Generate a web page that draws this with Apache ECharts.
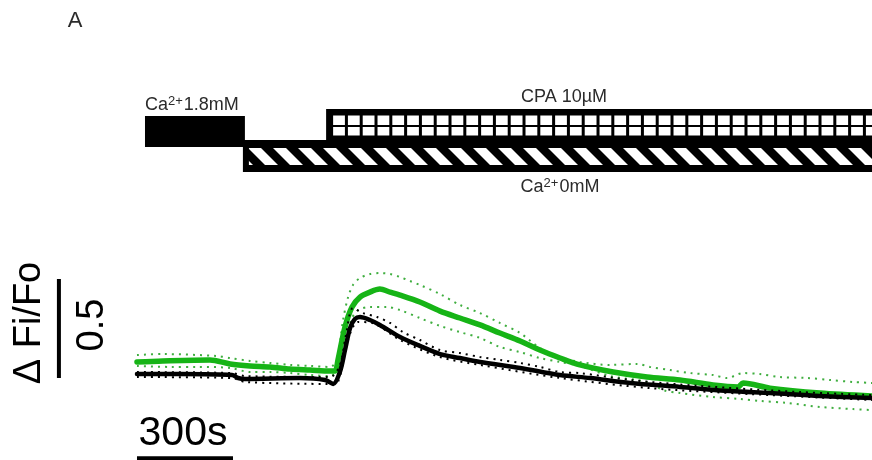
<!DOCTYPE html>
<html>
<head>
<meta charset="utf-8">
<script src="https://cdn.jsdelivr.net/npm/echarts@6/dist/echarts.min.js"></script>
<style>
  html, body { margin: 0; padding: 0; background: #fff; }
  #chart { width: 872px; height: 460px; }
</style>
</head>
<body>
<div id="chart"></div>
<script>
// Time in seconds, ΔFi/Fo as value.
// Perfusion protocol (seconds)
const phaseNames = ['Ca2+1.8mM', 'Ca2+0mM', 'CPA 10µM'];
const phaseStart = [25, 331, 591];
const phaseEnd = [331, 2297, 2297];

// Control (black): mean and SEM bounds, [time, ΔFi/Fo]
const ctrlMean = [
  [0, 0.020], [134, 0.020], [297, 0.015], [316, 0.000], [338, -0.005], [509, 0.000],
  [588, -0.010], [613, -0.030], [634, 0.030], [650, 0.141], [666, 0.253], [681, 0.298],
  [697, 0.308], [728, 0.293], [759, 0.268], [822, 0.207], [884, 0.162], [947, 0.121],
  [1009, 0.101], [1072, 0.081], [1197, 0.051], [1322, 0.015], [1416, 0.000], [1541, -0.025],
  [1697, -0.045], [1853, -0.066], [1978, -0.076], [2134, -0.091], [2297, -0.101]
];
const ctrlUpper = [
  [0, 0.030], [297, 0.025], [338, 0.010], [603, 0.005], [634, 0.066], [653, 0.217],
  [675, 0.354], [706, 0.328], [750, 0.308], [791, 0.278], [831, 0.232], [884, 0.192],
  [947, 0.141], [1009, 0.126], [1072, 0.106], [1134, 0.091], [1197, 0.076], [1259, 0.056],
  [1322, 0.030], [1384, 0.025], [1541, -0.010], [1759, -0.040], [2072, -0.071], [2297, -0.086]
];
const ctrlLower = [
  [0, 0.005], [297, 0.000], [338, -0.020], [603, -0.030], [628, -0.020], [659, 0.192],
  [691, 0.283], [744, 0.273], [822, 0.192], [947, 0.106], [1072, 0.066], [1322, 0.000],
  [1603, -0.051], [1916, -0.081], [2297, -0.111]
];

// Treated (green): mean and SEM bounds
const treatMean = [
  [0, 0.081], [81, 0.086], [228, 0.091], [291, 0.071], [353, 0.061], [416, 0.056],
  [478, 0.045], [541, 0.040], [603, 0.035], [619, 0.035], [628, 0.091], [650, 0.258],
  [672, 0.359], [697, 0.409], [728, 0.434], [759, 0.449], [791, 0.434], [822, 0.419],
  [884, 0.384], [947, 0.338], [1009, 0.303], [1072, 0.268], [1134, 0.227], [1197, 0.187],
  [1259, 0.141], [1322, 0.101], [1384, 0.066], [1488, 0.030], [1594, 0.005], [1697, -0.010],
  [1800, -0.035], [1878, -0.045], [1894, -0.025], [1978, -0.051], [2134, -0.076], [2297, -0.091]
];
const treatUpper = [
  [0, 0.116], [81, 0.121], [250, 0.111], [291, 0.101], [353, 0.086], [416, 0.076],
  [478, 0.066], [541, 0.061], [603, 0.056], [625, 0.091], [644, 0.293], [659, 0.404],
  [675, 0.470], [697, 0.505], [728, 0.525], [759, 0.530], [791, 0.525], [822, 0.510],
  [853, 0.490], [884, 0.470], [947, 0.424], [1009, 0.369], [1072, 0.328], [1134, 0.278],
  [1197, 0.227], [1259, 0.152], [1322, 0.106], [1384, 0.081], [1478, 0.066], [1563, 0.071],
  [1603, 0.056], [1666, 0.040], [1728, 0.025], [1800, 0.015], [1844, 0.000], [1894, 0.025],
  [1947, 0.020], [2009, 0.005], [2094, 0.000], [2166, -0.010], [2238, -0.020], [2297, -0.025]
];
const treatLower = [
  [0, 0.061], [103, 0.056], [188, 0.056], [291, 0.051], [353, 0.030], [416, 0.030],
  [478, 0.025], [541, 0.015], [603, 0.010], [625, 0.040], [650, 0.192], [672, 0.303],
  [691, 0.343], [728, 0.359], [781, 0.359], [822, 0.343], [884, 0.303], [947, 0.263],
  [1009, 0.232], [1072, 0.202], [1134, 0.157], [1197, 0.131], [1259, 0.101], [1322, 0.081],
  [1384, 0.061], [1478, 0.010], [1594, -0.020], [1644, -0.061], [1697, -0.076], [1800, -0.096],
  [1884, -0.106], [1947, -0.116], [2031, -0.126], [2134, -0.146], [2238, -0.157], [2297, -0.162]
];

// Scale bars: 0.5 ΔFi/Fo and 300 s
const scaleBarValue = [0, 0.5];
const scaleBarTime = [0, 300];
const scaleBarLabels = ['0.5', '300s'];

const BLACK = '#000000';
const GREEN = '#16b416';
const GREEN_DOT = '#3fae3f';

// Diagonal-stripe fill for the Ca2+-free period
function makeStripePattern() {
  const c = document.createElement('canvas');
  const p = 25, w = 13;
  c.width = p; c.height = p;
  const g = c.getContext('2d');
  g.fillStyle = '#000';
  g.fillRect(0, 0, p, p);
  g.fillStyle = '#fff';
  for (const o of [-p, 0, p]) {
    g.beginPath();
    g.moveTo(o, 0); g.lineTo(o + w, 0); g.lineTo(o + w + p, p); g.lineTo(o + p, p);
    g.closePath(); g.fill();
  }
  return c;
}
const stripeImage = makeStripePattern();

function renderPhase(params, api) {
  const i = api.value(0);
  const x0 = api.coord([phaseStart[i], 0])[0];
  const x1 = api.coord([phaseEnd[i], 0])[0] + 2;
  if (i === 0) {
    return { type: 'rect', z2: 30, shape: { x: x0, y: 116, width: x1 - x0, height: 31 }, style: { fill: BLACK } };
  }
  if (i === 1) {
    return {
      type: 'group', children: [
        { type: 'rect', z2: 10, shape: { x: x0, y: 140, width: x1 - x0, height: 32 }, style: { fill: BLACK } },
        { type: 'rect', z2: 11, shape: { x: x0 + 6, y: 148, width: x1 - x0 - 6, height: 17 },
          style: { fill: { image: stripeImage, repeat: 'repeat' } } }
      ]
    };
  }
  const children = [
    { type: 'rect', z2: 20, shape: { x: x0, y: 109, width: x1 - x0, height: 32 }, style: { fill: BLACK } }
  ];
  const pitch = 14.8, cw = 11.8, rows = [[115.5, 9.5], [127, 8.5]];
  for (let cx = x0 + 7; cx < x1; cx += pitch) {
    for (const r of rows) {
      children.push({ type: 'rect', z2: 21, shape: { x: cx, y: r[0], width: cw, height: r[1] }, style: { fill: '#fff' } });
    }
  }
  return { type: 'group', children };
}

function traceSeries(data, color, width, dotted, z) {
  return {
    type: 'line', data, showSymbol: false, symbol: 'none', smooth: 0.3, z,
    silent: true, animation: false, clip: false,
    lineStyle: dotted
      ? { color, width: 2, type: [2, 5], cap: 'butt' }
      : { color, width, cap: 'round', join: 'round' }
  };
}

const chart = echarts.init(document.getElementById('chart'), null, { renderer: 'canvas' });

const TEXT = '#2b2b2b';
const FONT = '"Liberation Sans", Arial, sans-serif';
const supRich = {
  b: { fontSize: 18, fontFamily: FONT, fill: TEXT, lineHeight: 20 },
  s: { fontSize: 13, fontFamily: FONT, fill: TEXT, verticalAlign: 'top', lineHeight: 20, padding: [0, 1, 8, 0] }
};

chart.setOption({
  backgroundColor: '#ffffff',
  animation: false,
  grid: { left: 0, right: 0, top: 0, bottom: 0 },
  xAxis: { type: 'value', min: -428.1, max: 2296.9, show: false },
  yAxis: { type: 'value', min: -0.4141, max: 1.9091, show: false },
  series: [
    {
      type: 'custom', renderItem: renderPhase, silent: true, animation: false,
      data: phaseNames.map((n, i) => [i]), z: 1
    },
    traceSeries(treatUpper, GREEN_DOT, 2, true, 2),
    traceSeries(treatLower, GREEN_DOT, 2, true, 2),
    traceSeries(treatMean, GREEN, 5.5, false, 3),
    traceSeries(ctrlLower, BLACK, 2, true, 4),
    traceSeries(ctrlUpper, BLACK, 2, true, 4),
    traceSeries(ctrlMean, BLACK, 4.5, false, 5),
    {
      type: 'line', silent: true, animation: false, symbol: 'none', z: 6, clip: false,
      data: scaleBarValue.map(v => [-244, v]),
      lineStyle: { color: BLACK, width: 4, cap: 'butt' }
    },
    {
      type: 'line', silent: true, animation: false, symbol: 'none', z: 6, clip: false,
      data: scaleBarTime.map(t => [t, -0.405]),
      lineStyle: { color: BLACK, width: 4, cap: 'butt' }
    }
  ],
  graphic: [
    { type: 'text', x: 75, y: 21, style: { text: 'A', fontSize: 22, fontFamily: FONT, fill: TEXT, align: 'center', verticalAlign: 'middle' } },
    {
      type: 'text', x: 145, y: 105,
      style: { text: '{b|Ca}{s|2+}{b|1.8mM}', align: 'left', verticalAlign: 'middle', fill: TEXT, fontFamily: FONT, rich: supRich }
    },
    { type: 'text', x: 564, y: 97, style: { text: 'CPA 10µM', fontSize: 18, fontFamily: FONT, fill: TEXT, align: 'center', verticalAlign: 'middle' } },
    {
      type: 'text', x: 560, y: 187,
      style: { text: '{b|Ca}{s|2+}{b|0mM}', align: 'center', verticalAlign: 'middle', fill: TEXT, fontFamily: FONT, rich: supRich }
    },
    { type: 'text', x: 30, y: 323, rotation: Math.PI / 2, style: { text: 'Δ Fi/Fo', fontSize: 38, fontFamily: FONT, fill: BLACK, align: 'center', verticalAlign: 'middle' } },
    { type: 'text', x: 93, y: 325, rotation: Math.PI / 2, style: { text: scaleBarLabels[0], fontSize: 38, fontFamily: FONT, fill: BLACK, align: 'center', verticalAlign: 'middle' } },
    { type: 'text', x: 183, y: 434, style: { text: scaleBarLabels[1], fontSize: 41, fontFamily: FONT, fill: BLACK, align: 'center', verticalAlign: 'middle' } }
  ]
});
</script>
</body>
</html>
